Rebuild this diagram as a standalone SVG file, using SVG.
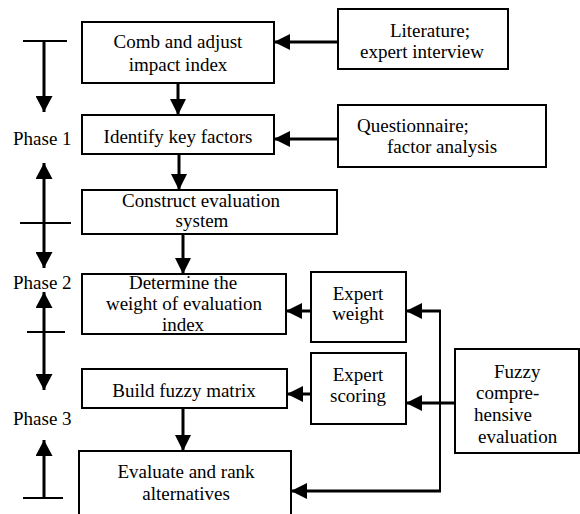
<svg xmlns="http://www.w3.org/2000/svg" width="580" height="514" viewBox="0 0 580 514">
<style>
.box{fill:#fff;stroke:#000;stroke-width:2}
text{font-family:"Liberation Serif","DejaVu Serif",serif;font-size:19px;fill:#000}
.c{text-anchor:middle}
.ar{stroke:#000;stroke-width:3;fill:none}
.thin{stroke:#000;stroke-width:2;fill:none}
</style>
<defs>
<marker id="ah" markerUnits="userSpaceOnUse" markerWidth="16" markerHeight="16" refX="14" refY="7" orient="auto-start-reverse" viewBox="0 0 14 14">
<path d="M0,0 L14,7 L0,14 z" fill="#000"/>
</marker>
<marker id="ph" markerUnits="userSpaceOnUse" markerWidth="16" markerHeight="17" refX="15" refY="8" orient="auto-start-reverse" viewBox="0 0 15 16">
<path d="M0,0 L15,8 L0,16 z" fill="#000"/>
</marker>
</defs>
<rect width="580" height="514" fill="#fff"/>
<g id="phases">
<line class="thin" x1="23" y1="41" x2="67" y2="41"/>
<line class="ar" x1="44" y1="41" x2="44" y2="112" marker-end="url(#ph)"/>
<text font-family="Liberation Serif, serif" x="13" y="145">Phase 1</text>
<line class="thin" x1="20" y1="223" x2="71" y2="223"/>
<line class="ar" x1="44" y1="163" x2="44" y2="268" marker-start="url(#ph)" marker-end="url(#ph)"/>
<text font-family="Liberation Serif, serif" x="13" y="289">Phase 2</text>
<line class="thin" x1="27" y1="332" x2="65" y2="332"/>
<line class="ar" x1="44" y1="292" x2="44" y2="390" marker-start="url(#ph)" marker-end="url(#ph)"/>
<text font-family="Liberation Serif, serif" x="13" y="425">Phase 3</text>
<line class="thin" x1="23" y1="498" x2="63" y2="498"/>
<line class="ar" x1="44" y1="498" x2="44" y2="440" marker-end="url(#ph)"/>
</g>
<g id="connectors">
<line class="ar" x1="338" y1="42" x2="274" y2="42" marker-end="url(#ah)"/>
<line class="ar" x1="338" y1="139" x2="274" y2="139" marker-end="url(#ah)"/>
<line class="ar" x1="178" y1="83" x2="178" y2="115" marker-end="url(#ah)"/>
<line class="ar" x1="179" y1="154" x2="179" y2="190" marker-end="url(#ah)"/>
<line class="ar" x1="183" y1="234" x2="183" y2="274" marker-end="url(#ah)"/>
<line class="ar" x1="183" y1="408" x2="183" y2="451" marker-end="url(#ah)"/>
<line class="ar" x1="311" y1="311" x2="286" y2="311" marker-end="url(#ah)"/>
<line class="ar" x1="311" y1="394" x2="287" y2="394" marker-end="url(#ah)"/>
<line class="ar" x1="455" y1="403" x2="406" y2="403" marker-end="url(#ah)"/>
<line class="thin" x1="440" y1="310" x2="440" y2="492"/>
<line class="ar" x1="441" y1="311" x2="406" y2="311" marker-end="url(#ah)"/>
<line class="ar" x1="441" y1="491" x2="291" y2="491" marker-end="url(#ah)"/>
</g>
<g id="n1"><rect class="box" x="82" y="22" width="192" height="61"/>
<text class="c" x="178" y="48">Comb and adjust</text><text class="c" x="178" y="71">impact index</text></g>
<g id="n2"><rect class="box" x="82" y="115" width="192" height="39"/>
<text class="c" x="178" y="143">Identify key factors</text></g>
<g id="n3"><rect class="box" x="82" y="190" width="255" height="44"/>
<text class="c" x="201" y="207">Construct evaluation</text><text class="c" x="202" y="227">system</text></g>
<g id="n4"><rect class="box" x="82" y="274" width="204" height="60"/>
<text class="c" x="183" y="289">Determine the</text><text class="c" x="184" y="310">weight of evaluation</text><text class="c" x="183" y="331">index</text></g>
<g id="n5"><rect class="box" x="82" y="369" width="205" height="39"/>
<text class="c" x="184" y="397">Build fuzzy matrix</text></g>
<g id="n6"><rect class="box" x="79" y="451" width="212" height="80"/>
<text class="c" x="186" y="478">Evaluate and rank</text><text class="c" x="186" y="500">alternatives</text></g>
<g id="n7"><rect class="box" x="338" y="9" width="170" height="60"/>
<text class="c" x="430" y="37">Literature;</text><text class="c" x="422" y="58">expert interview</text></g>
<g id="n8"><rect class="box" x="338" y="105" width="208" height="62"/>
<text x="357" y="132">Questionnaire;</text><text x="387" y="153">factor analysis</text></g>
<g id="n9"><rect class="box" x="311" y="272" width="95" height="70"/>
<text class="c" x="358" y="300">Expert</text><text class="c" x="358" y="320">weight</text></g>
<g id="n10"><rect class="box" x="311" y="353" width="95" height="71"/>
<text class="c" x="358" y="381">Expert</text><text class="c" x="358" y="402">scoring</text></g>
<g id="n11"><rect class="box" x="455" y="349" width="124" height="104"/>
<text x="494" y="378">Fuzzy</text><text x="476" y="399">compre-</text><text x="474" y="421">hensive</text><text x="478" y="443">evaluation</text></g>
</svg>
